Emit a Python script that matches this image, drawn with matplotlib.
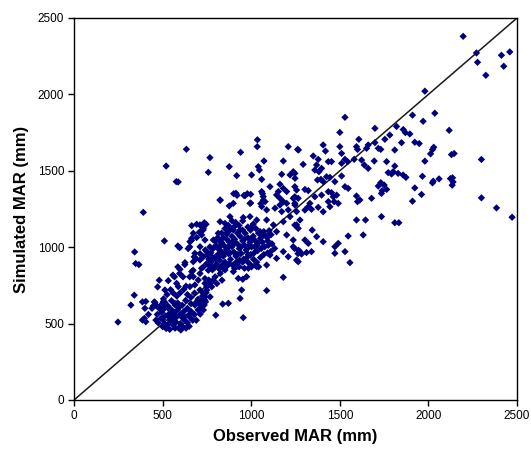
import matplotlib
matplotlib.use("Agg")
import matplotlib.pyplot as plt
import numpy as np

plt.rcParams['font.family'] = ['Liberation Sans', 'DejaVu Sans']

# ---- data (observed, simulated MAR in mm), grouped by region of the cloud ----
low_obs = [248, 321, 340, 342, 348, 366, 386, 405, 386, 397, 405, 420, 440, 453, 462, 472, 481, 462, 491, 475,
           500, 510, 520, 530, 545, 560, 575, 590, 600, 612, 625, 640, 655, 470, 495, 515, 535, 550, 565, 580,
           600, 620, 640, 660, 680, 700, 720, 735, 690, 660, 630, 610, 590, 570, 550, 530, 510, 490, 505, 525,
           545, 560, 580, 600, 620, 640, 660, 680, 700, 712, 725, 745, 742, 690, 712, 670, 650, 632, 480, 500,
           540, 560, 585, 610, 650, 570, 540, 603, 512, 625, 585, 555]
low_sim = [510, 621, 686, 969, 893, 886, 642, 645, 523, 534, 512, 560, 600, 642, 621, 740, 784, 523, 534, 505,
           480, 500, 468, 495, 520, 490, 510, 472, 500, 482, 520, 505, 540, 560, 575, 550, 562, 590, 570, 545,
           560, 580, 600, 580, 560, 590, 603, 622, 640, 630, 652, 620, 610, 632, 650, 615, 600, 620, 662, 690,
           722, 700, 680, 702, 724, 690, 672, 700, 660, 622, 680, 702, 642, 522, 562, 522, 482, 470, 600, 530,
           540, 525, 590, 540, 560, 470, 462, 458, 640, 545, 635, 552]

outlier_obs = [391, 520, 577, 588, 634]
outlier_sim = [1228, 1531, 1429, 1427, 1641]

bridge_obs = [510, 586, 596, 558, 567, 596, 615, 586, 625, 644, 653, 663, 678, 688, 711, 730, 749, 730, 758, 777,
              711, 739, 768, 672, 653, 730, 749, 777, 806, 835, 825, 796, 768, 739, 711, 682, 800, 871, 839, 937,
              955, 952, 927, 974, 946, 1087, 1181, 730, 725, 740, 711, 748, 786, 760, 532, 579, 513, 588, 632, 654,
              682, 457, 504, 400, 447, 494, 532, 570, 598, 664, 673, 701, 739, 626, 673, 711, 720, 654, 711, 748,
              682, 664, 692, 720, 729, 707, 673, 664, 692, 720, 739, 745, 735]
bridge_sim = [1041, 1008, 997, 817, 806, 828, 806, 871, 886, 991, 1002, 1045, 937, 926, 958, 937, 893, 871, 849, 871,
              828, 795, 762, 849, 806, 697, 719, 741, 762, 784, 828, 806, 675, 653, 642, 621, 555, 633, 628, 665,
              539, 790, 796, 807, 720, 716, 803, 589, 660, 676, 720, 740, 785, 785, 781, 763, 720, 742, 745, 742,
              753, 637, 644, 600, 615, 589, 600, 622, 855, 840, 807, 785, 763, 899, 905, 916, 862, 1036, 1003, 971,
              960, 1141, 1150, 1135, 1113, 1098, 1091, 1058, 1063, 1080, 1047, 1150, 1160]

core_obs = [762, 776, 791, 803, 812, 822, 831, 843, 852, 861, 872, 883, 891, 902, 913, 921, 932, 941, 952, 963,
            971, 982, 993, 1002, 1011, 1022, 1033, 1041, 1052, 1063, 1071, 1082, 1093, 1101, 1112, 772, 786, 801, 817, 832,
            846, 862, 877, 891, 906, 922, 937, 951, 966, 981, 996, 1012, 1026, 781, 797, 816, 836, 857, 876, 896,
            917, 936, 957, 976, 997, 1016, 1036, 1057, 1076, 1096, 1117, 821, 841, 862, 881, 902, 912, 931, 952, 871,
            892, 852, 833, 811, 796, 951, 972, 991, 1012, 1031, 1052, 1071, 1092, 1111, 1132, 1001, 1022, 1042, 962, 932,
            906, 921, 942, 961, 982, 1003, 1021, 1043, 1062, 983, 871, 902, 881, 853, 822, 801, 782, 761, 752, 767,
            741]
core_sim = [882, 906, 931, 888, 952, 914, 972, 941, 902, 986, 957, 921, 1003, 968, 942, 1022, 991, 962, 1041, 1012,
            982, 1061, 1031, 1002, 1072, 1043, 1011, 1092, 1058, 1033, 1102, 1071, 1041, 1108, 1082, 963, 992, 1012, 986, 1032,
            1011, 1052, 1033, 1071, 1052, 1092, 1071, 1112, 1091, 1132, 1112, 1152, 1122, 852, 871, 862, 882, 871, 892, 882,
            902, 911, 922, 933, 952, 962, 977, 992, 1003, 1012, 1022, 1002, 1062, 1092, 1112, 1132, 1162, 1142, 1172, 1142,
            1172, 1122, 1092, 1062, 1042, 902, 912, 891, 922, 902, 932, 952, 962, 972, 992, 871, 882, 872, 862, 872,
            862, 952, 1002, 1052, 1003, 1052, 1001, 1032, 1082, 952, 1003, 1022, 962, 962, 942, 922, 932, 922, 951, 1002,
            982]

mid_obs = [940, 1034, 1035, 1209, 1266, 767, 758, 876, 1072, 1040, 1046, 918, 1002, 1059, 1181, 1172, 1219, 1247, 1237, 1106,
           1162, 1181, 1153, 1200, 914, 965, 997, 993, 824, 876, 899, 1059, 1068, 1078, 1059, 1087, 1143, 1162, 1181, 1162,
           1200, 1134, 1172, 1209, 1237, 1247, 1256, 711, 730, 824, 852, 880, 955, 993, 1031, 1087, 814, 861, 899, 937,
           786, 824, 899, 1125, 1181, 1219, 1256, 1143, 1200, 1237, 1096, 1050, 1002, 1106, 1143, 1181, 1209, 1237, 1256, 1266,
           824, 852, 899, 918, 984, 1031, 1087, 1245, 1264, 901, 920, 959, 978, 1064, 1068, 825, 1054, 997]
mid_sim = [1621, 1658, 1703, 1658, 1636, 1586, 1490, 1527, 1564, 1527, 1505, 1468, 1473, 1444, 1564, 1477, 1473, 1451, 1494, 1396,
           1412, 1385, 1364, 1364, 1353, 1337, 1346, 1287, 1309, 1270, 1287, 1364, 1331, 1298, 1266, 1244, 1342, 1320, 1298, 1276,
           1287, 1255, 1233, 1244, 1320, 1276, 1233, 1146, 1124, 1167, 1156, 1200, 1194, 1200, 1178, 1178, 1091, 1085, 1113, 1113,
           1047, 1036, 1036, 1146, 1167, 1200, 1146, 1102, 1080, 1047, 1069, 1102, 1135, 949, 927, 971, 938, 1003, 916, 981,
           862, 851, 840, 873, 862, 873, 883, 991, 958, 1350, 1339, 1339, 1350, 1350, 1307, 1307, 1285, 1289]

upper_obs = [1529, 1698, 1500, 1607, 1754, 1782, 1820, 1858, 1870, 1848, 1262, 1406, 1419, 1500, 1510, 1594, 1600, 1651, 1660, 1698,
             1717, 1731, 1810, 1350, 1378, 1435, 1453, 1529, 1544, 1510, 1581, 1623, 1638, 1660, 1694, 1764, 1810, 1801, 1773, 1792,
             1829, 1857, 1873, 1293, 1369, 1359, 1382, 1397, 1246, 1374, 1393, 1406, 1425, 1444, 1472, 1510, 1529, 1547, 1731, 1750,
             1717, 1739, 1764, 1246, 1256, 1303, 1322, 1359, 1397, 1435, 1453, 1463, 1482, 1468, 1435, 1491, 1594, 1613, 1600, 1679,
             1735, 1331, 1322, 1303, 1340, 1378, 1406, 1444, 1246, 1265, 1246, 1735, 1594, 1645, 1810, 1833, 1344, 1246, 1265, 1275,
             1547, 1632, 1369, 1406, 1303, 1322, 1491, 1472, 1529, 1472, 1340, 1275, 1284, 1557, 1265, 1312]
upper_sim = [1850, 1778, 1751, 1706, 1706, 1734, 1790, 1770, 1750, 1684, 1640, 1669, 1629, 1658, 1614, 1658, 1640, 1647, 1669, 1684,
             1647, 1640, 1636, 1597, 1575, 1560, 1560, 1575, 1560, 1549, 1575, 1570, 1538, 1516, 1564, 1560, 1531, 1494, 1488, 1479,
             1483, 1472, 1457, 1542, 1538, 1505, 1494, 1516, 1483, 1440, 1444, 1429, 1461, 1457, 1429, 1466, 1396, 1385, 1422, 1407,
             1400, 1370, 1378, 1396, 1374, 1378, 1370, 1330, 1341, 1363, 1357, 1330, 1341, 1298, 1298, 1287, 1335, 1309, 1298, 1320,
             1352, 1287, 1265, 1243, 1248, 1261, 1232, 1265, 1287, 1320, 1330, 1200, 1178, 1178, 1160, 1160, 1112, 1145, 1123, 1178,
             1073, 1080, 1069, 1036, 1047, 1025, 1025, 1003, 971, 960, 971, 971, 955, 899, 905, 965]

high_obs = [2196, 2271, 2277, 2412, 2459, 2425, 2324, 1980, 1910, 2036, 1970, 2117, 1923, 1948, 2012, 2023, 2030, 1980, 2130, 2145,
            2299, 1966, 1923, 2027, 2023, 2060, 2124, 2136, 2139, 2134, 1961, 1910, 2299, 2384, 2472, 1895]
high_sim = [2380, 2271, 2210, 2256, 2278, 2184, 2125, 2021, 1864, 1877, 1824, 1765, 1687, 1678, 1611, 1639, 1654, 1563, 1606, 1613,
            1574, 1464, 1388, 1432, 1421, 1447, 1449, 1454, 1427, 1406, 1345, 1301, 1323, 1257, 1196, 1741]

axis_ticks = [0, 500, 1000, 1500, 2000, 2500]
x_label = "Observed MAR (mm)"
y_label = "Simulated MAR (mm)"

obs = np.concatenate([low_obs, outlier_obs, bridge_obs, core_obs, mid_obs, upper_obs, high_obs])
sim = np.concatenate([low_sim, outlier_sim, bridge_sim, core_sim, mid_sim, upper_sim, high_sim])

fig = plt.figure(figsize=(5.31, 4.53), dpi=100)
ax = fig.add_axes([0.1394, 0.117, 0.8343, 0.8433])

ax.plot([0, 2500], [0, 2500], color='#1a1a1a', lw=1.1, zorder=1)
ax.scatter(obs, sim, marker='D', s=14, color='#00007f', edgecolors='none', zorder=2)

ax.set_xlim(0, 2500)
ax.set_ylim(0, 2500)
ax.set_xticks(axis_ticks)
ax.set_yticks(axis_ticks)
ax.tick_params(direction='out', length=4, width=1, labelsize=8.5, pad=3)
for sp in ax.spines.values():
    sp.set_linewidth(1.0)
ax.set_xlabel(x_label, fontsize=12, fontweight='bold', labelpad=5)
ax.set_ylabel(y_label, fontsize=12, fontweight='bold', labelpad=6)

fig.savefig("out.png", dpi=100)
